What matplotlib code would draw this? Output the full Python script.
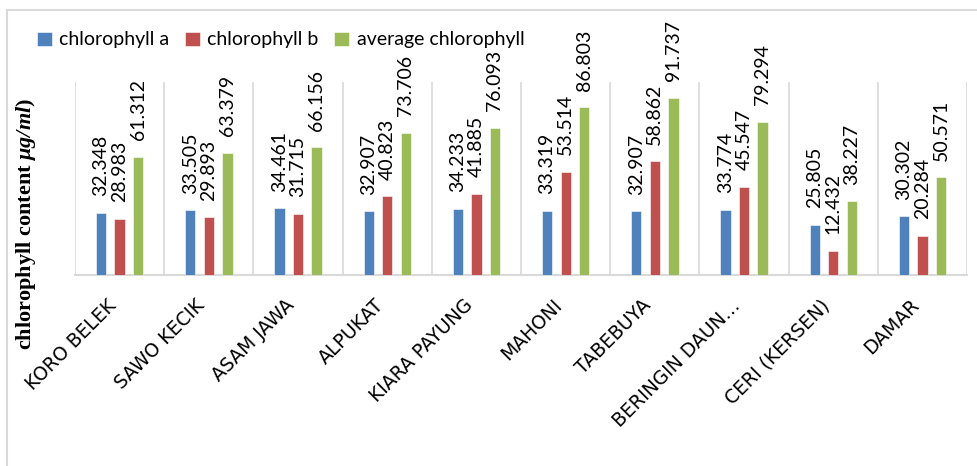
import matplotlib.pyplot as plt
import numpy as np
from matplotlib.lines import Line2D

# Chlorophyll content per tree species
species = ["KORO BELEK", "SAWO KECIK", "ASAM JAWA", "ALPUKAT", "KIARA PAYUNG",
           "MAHONI", "TABEBUYA", "BERINGIN DAUN…", "CERI (KERSEN)", "DAMAR"]
chl_a = [32.348, 33.505, 34.461, 32.907, 34.233, 33.319, 32.907, 33.774, 25.805, 30.302]
chl_b = [28.983, 29.893, 31.715, 40.823, 41.885, 53.514, 58.862, 45.547, 12.432, 20.284]
chl_avg = [61.312, 63.379, 66.156, 73.706, 76.093, 86.803, 91.737, 79.294, 38.227, 50.571]

series = [
    ("chlorophyll a", chl_a, "#4F81BD"),
    ("chlorophyll b", chl_b, "#C0504D"),
    ("average chlorophyll", chl_avg, "#9BBB59"),
]

plt.rcParams['mathtext.fontset'] = 'custom'
plt.rcParams['mathtext.bfit'] = 'Liberation Serif:italic:bold'
plt.rcParams['mathtext.rm'] = 'Liberation Serif:bold'

fig = plt.figure(figsize=(9.78, 4.66), dpi=100)
ax = fig.add_axes([0.0767, 0.41, 0.9121, 0.414])

x = np.arange(len(species))
width = 0.115
offsets = [-0.208, 0.0, 0.208]

for (name, vals, color), off in zip(series, offsets):
    bars = ax.bar(x + off, vals, width, color=color, label=name,
                  edgecolor="white", linewidth=0.4, zorder=3)
    ax.bar_label(bars, labels=[f"{v:.3f}" for v in vals], rotation=90,
                 padding=12, fontsize=14, family="Lato", color="black")

ax.set_xlim(-0.5, len(species) - 0.5)
ax.set_ylim(0, 100)
ax.set_yticks([])

# category separators
ax.set_xticks(np.arange(-0.5, len(species), 1.0), minor=True)
ax.grid(True, which="minor", axis="x", color="#D9D9D9", linewidth=1.2, zorder=0)
ax.tick_params(axis="x", which="both", length=0)

ax.set_xticks(x)
ax.set_xticklabels(species, rotation=45, ha="right")
for lbl in ax.get_xticklabels():
    lbl.set_fontfamily("DejaVu Sans")
    lbl.set_fontsize(13.5)
ax.tick_params(axis="x", pad=15)

for s in ["top", "right", "left"]:
    ax.spines[s].set_visible(False)
ax.spines["bottom"].set_color("#D9D9D9")
ax.spines["bottom"].set_linewidth(1.5)

# y label: bold serif with bold-italic unit
fig.text(0.027, 0.52, r"chlorophyll content $\mathbfit{μg/ml}$)", rotation=90,
         ha="center", va="center", fontsize=16, family="Liberation Serif",
         fontweight="bold")

fig.legend(loc="upper left", bbox_to_anchor=(0.02, 0.97), ncol=3,
           frameon=False, prop={"family": "Lato", "size": 14},
           handlelength=0.75, handleheight=0.75, handletextpad=0.4,
           columnspacing=0.8)

# outer chart frame
fig.add_artist(Line2D([7 / 978, 7 / 978], [0, 1 - 10 / 466], color="#D9D9D9", lw=1.5))
fig.add_artist(Line2D([7 / 978, 1], [1 - 10 / 466, 1 - 10 / 466], color="#D9D9D9", lw=1.5))

fig.savefig("out.png", dpi=100)
